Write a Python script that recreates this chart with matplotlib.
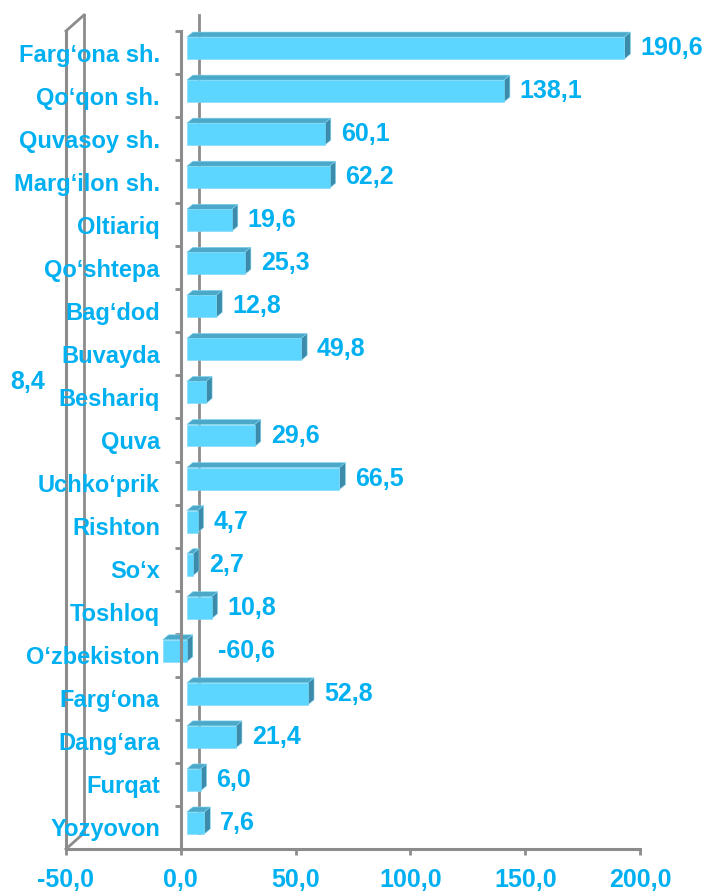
import matplotlib.pyplot as plt
from matplotlib.patches import Polygon
from matplotlib.transforms import IdentityTransform

categories = ["Farg‘ona sh.", "Qo‘qon sh.", "Quvasoy sh.", "Marg‘ilon sh.", "Oltiariq",
              "Qo‘shtepa", "Bag‘dod", "Buvayda", "Beshariq", "Quva", "Uchko‘prik",
              "Rishton", "So‘x", "Toshloq", "O‘zbekiston", "Farg‘ona", "Dang‘ara",
              "Furqat", "Yozyovon"]
# bar lengths as drawn in the picture (the O'zbekiston bar is shorter than its label)
bar_values = [190.6, 138.1, 60.1, 62.2, 19.6, 25.3, 12.8, 49.8, 8.4, 29.6, 66.5,
              4.7, 2.7, 10.8, -10.5, 52.8, 21.4, 6.0, 7.6]
value_labels = ["190,6", "138,1", "60,1", "62,2", "19,6", "25,3", "12,8", "49,8", "8,4",
                "29,6", "66,5", "4,7", "2,7", "10,8", "-60,6", "52,8", "21,4", "6,0", "7,6"]
xticks = [-50, 0, 50, 100, 150, 200]
xtick_labels = ["-50,0", "0,0", "50,0", "100,0", "150,0", "200,0"]

BLUE = "#00B0F0"
FRONT = "#5CD6FF"
TOP = "#4BA8C9"
SIDE = "#3C8BAA"
GRID = "#8C8C8C"

plt.rcParams["font.family"] = ["Liberation Sans", "DejaVu Sans"]
plt.rcParams["font.weight"] = "bold"

fig = plt.figure(figsize=(7.08, 8.92), dpi=100)
ax = fig.add_axes([66 / 708, 43 / 892, 574 / 708, 818 / 892])
n = len(categories)
rows = list(range(n))
ax.set_xlim(-50, 200)
ax.set_ylim(n - 0.5, -0.5)

ax.spines["top"].set_visible(False)
ax.spines["right"].set_visible(False)
ax.spines["left"].set_position(("data", 0))
for s in ["left", "bottom"]:
    ax.spines[s].set_color(GRID)
    ax.spines[s].set_linewidth(2.2)
    ax.spines[s].set_zorder(2.5)

ax.set_xticks(xticks, xtick_labels)
ax.set_yticks(rows, categories)
ax.set_yticks([r - 0.5 for r in rows] + [n - 0.5], minor=True)
ax.tick_params(axis="y", which="major", length=0, pad=15, labelsize=17, labelcolor=BLUE)
ax.tick_params(axis="y", which="minor", length=4.3, width=2, color=GRID)
ax.tick_params(axis="x", length=4.3, width=2, color=GRID, pad=9.5, labelsize=18, labelcolor=BLUE)

ident = IdentityTransform()


def px(x, y, dx=0.0, dy=0.0):
    # data point -> display pixels, then shift (dx right, dy down)
    X, Y = ax.transData.transform((x, y))
    return (X + dx, Y - dy)


# back wall lines (3d depth)
wall = (18, -16)
for x in [-50, 0]:
    a = px(x, -0.5, *wall)
    b = px(x, n - 0.5, *wall)
    ax.plot([a[0], b[0]], [a[1], b[1]], color=GRID, lw=2, transform=ident, zorder=1, clip_on=False)
ax.plot([-50, -50], [-0.5, n - 0.5], color=GRID, lw=2.2, zorder=1, clip_on=False)
for y in [-0.5, n - 0.5]:
    a = px(-50, y)
    b = px(-50, y, *wall)
    ax.plot([a[0], b[0]], [a[1], b[1]], color=GRID, lw=2, transform=ident, zorder=1, clip_on=False)

# 3d bars
h = 0.51
fx, fy = 6, -4.5
bx, by = 6, -5
for r, v in zip(rows, bar_values):
    xl, xr = min(v, 0), max(v, 0)
    front = [px(xl, r - h / 2, fx, fy), px(xr, r - h / 2, fx, fy),
             px(xr, r + h / 2, fx, fy), px(xl, r + h / 2, fx, fy)]
    top = [front[0], front[1], px(xr, r - h / 2, fx + bx, fy + by), px(xl, r - h / 2, fx + bx, fy + by)]
    side = [front[1], front[2], px(xr, r + h / 2, fx + bx, fy + by), px(xr, r - h / 2, fx + bx, fy + by)]
    for pts, col in [(top, TOP), (side, SIDE), (front, FRONT)]:
        ax.add_patch(Polygon(pts, closed=True, facecolor=col, edgecolor="#7FD8F5", lw=0.4,
                             transform=ident, zorder=2.2))

# value labels
for r, v, lab in zip(rows, bar_values, value_labels):
    if categories[r] == "Beshariq":
        ax.annotate(lab, xy=(-50, r), xytext=(-40.3, 10.8), textcoords="offset points",
                    ha="left", va="center", fontsize=18, color=BLUE, annotation_clip=False)
    elif v < 0:
        ax.annotate(lab, xy=(0, r), xytext=(26.6, 3.2), textcoords="offset points",
                    ha="left", va="center", fontsize=18, color=BLUE)
    else:
        ax.annotate(lab, xy=(v, r), xytext=(15.8, 3.2), textcoords="offset points",
                    ha="left", va="center", fontsize=18, color=BLUE)

fig.savefig("out.png", dpi=100)
